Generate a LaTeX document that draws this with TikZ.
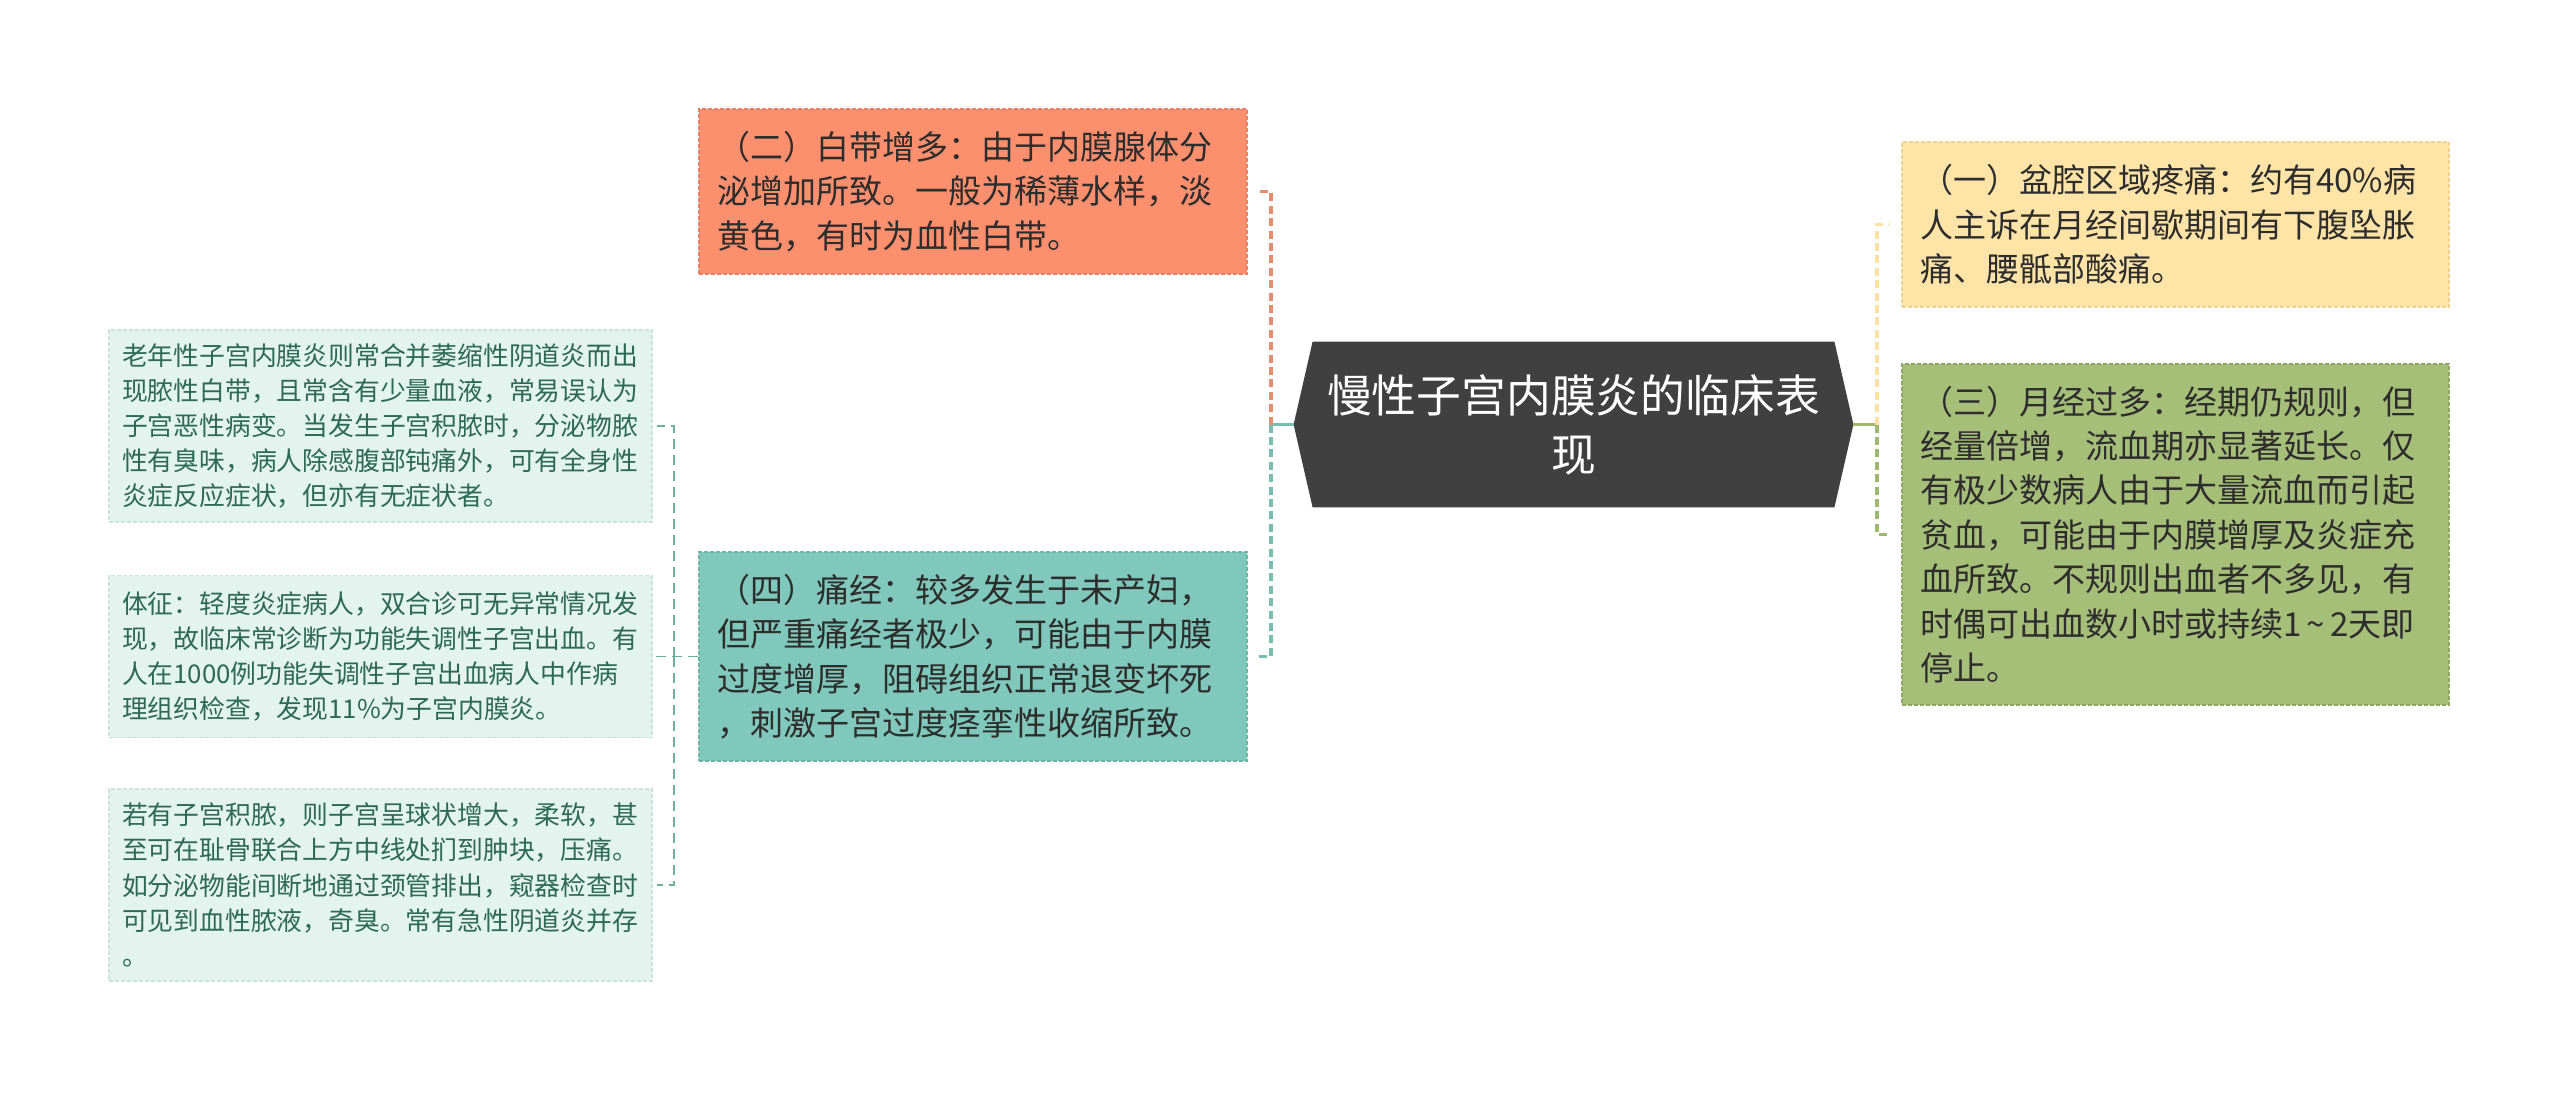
\documentclass[tikz,border=0pt]{standalone}
\usepackage{fontspec}
\setmainfont{Noto Sans CJK SC}
\usetikzlibrary{calc,backgrounds}
\definecolor{rootfill}{RGB}{64,64,64}
\definecolor{orfill}{RGB}{252,143,110}
\definecolor{ordraw}{RGB}{232,128,98}
\definecolor{tlfill}{RGB}{127,200,187}
\definecolor{tldraw}{RGB}{108,180,166}
\definecolor{ylfill}{RGB}{255,228,168}
\definecolor{yldraw}{RGB}{240,210,148}
\definecolor{grfill}{RGB}{165,190,120}
\definecolor{grdraw}{RGB}{140,168,98}
\definecolor{mtfill}{RGB}{227,243,238}
\definecolor{mtdraw}{RGB}{200,228,218}
\definecolor{txdark}{RGB}{45,45,45}
\definecolor{txgreen}{RGB}{45,105,85}
\definecolor{cor}{RGB}{233,140,110}
\definecolor{ctl}{RGB}{118,190,176}
\definecolor{cyl}{RGB}{250,226,165}
\definecolor{cgr}{RGB}{158,184,112}
\definecolor{cmt}{RGB}{110,175,155}
\begin{document}
\begin{tikzpicture}[x=0.5pt,y=-0.5pt,
  mainbox/.style={draw, dash pattern=on 2pt off 1pt, line width=0.7pt,
    align=left, inner xsep=9pt, inner ysep=0pt, text width=256pt,
    font=\fontsize{16.5}{22.2}\selectfont, text=txdark},
  leafbox/.style={draw=mtdraw, fill=mtfill, dash pattern=on 2pt off 1pt, line width=0.6pt,
    align=left, inner xsep=6.5pt, inner ysep=0pt, text width=258.5pt,
    font=\fontsize{12.9}{17.6}\selectfont, text=txgreen},
  rootbox/.style={align=center, inner sep=0pt, minimum width=279.5pt, minimum height=82.5pt,
    font=\fontsize{22.4}{29.5}\selectfont, text=white},
  conn/.style={line width=1.9pt},
  dconn/.style={line width=1.7pt, dash pattern=on 4pt off 2.2pt},
  lconn/.style={draw=cmt, line width=0.9pt, dash pattern=on 5pt off 3pt}]

\useasboundingbox (0,0) rectangle (2560,1093);

\node[rootbox] (root) at (1573.5,424.5) {慢性子宫内膜炎的临床表\\现};

\node[mainbox, fill=orfill, draw=ordraw, minimum height=82.5pt] (n2) at (973,191.5)
  {（二）白带增多：由于内膜腺体分\\泌增加所致。一般为稀薄水样，淡\\黄色，有时为血性白带。};
\node[mainbox, fill=tlfill, draw=tldraw, minimum height=104.5pt] (n4) at (973,656.5)
  {（四）痛经：较多发生于未产妇，\\但严重痛经者极少，可能由于内膜\\过度增厚，阻碍组织正常退变坏死\\，刺激子宫过度痉挛性收缩所致。};
\node[mainbox, fill=ylfill, draw=yldraw, minimum height=82.5pt, text width=255.5pt] (n1) at (2175.5,224.5)
  {（一）盆腔区域疼痛：约有40\%病\\人主诉在月经间歇期间有下腹坠胀\\痛、腰骶部酸痛。};
\node[mainbox, fill=grfill, draw=grdraw, minimum height=170.5pt, text width=255.5pt] (n3) at (2175.5,534.5)
  {（三）月经过多：经期仍规则，但\\经量倍增，流血期亦显著延长。仅\\有极少数病人由于大量流血而引起\\贫血，可能由于内膜增厚及炎症充\\血所致。不规则出血者不多见，有\\时偶可出血数小时或持续1\,{\textasciitilde}\,2天即\\停止。};

\node[leafbox, minimum height=96pt] (a) at (380.5,426)
  {老年性子宫内膜炎则常合并萎缩性阴道炎而出\\现脓性白带，且常含有少量血液，常易误认为\\子宫恶性病变。当发生子宫积脓时，分泌物脓\\性有臭味，病人除感腹部钝痛外，可有全身性\\炎症反应症状，但亦有无症状者。};
\node[leafbox, minimum height=81pt] (b) at (380.5,656.5)
  {体征：轻度炎症病人，双合诊可无异常情况发\\现，故临床常诊断为功能失调性子宫出血。有\\人在1000例功能失调性子宫出血病人中作病\\理组织检查，发现11\%为子宫内膜炎。};
\node[leafbox, minimum height=96pt] (c) at (380.5,885)
  {若有子宫积脓，则子宫呈球状增大，柔软，甚\\至可在耻骨联合上方中线处扪到肿块，压痛。\\如分泌物能间断地通过颈管排出，窥器检查时\\可见到血性脓液，奇臭。常有急性阴道炎并存\\。};

\begin{scope}[on background layer]
  \fill[white] (0,0) rectangle (2560,1093);
  \fill[rootfill] (root.west) -- ([xshift=9.5pt]root.north west) -- ([xshift=-9.5pt]root.north east)
    -- (root.east) -- ([xshift=-9.5pt]root.south east) -- ([xshift=9.5pt]root.south west) -- cycle;
\end{scope}

% left main connectors
\coordinate (jl) at (1271,424.5);
\draw[conn, ctl] (root.west) -- (jl);
\draw[dconn, cor] (jl) |- ([xshift=4.5pt]n2.east);
\draw[dconn, ctl] (jl) |- ([xshift=4.5pt]n4.east);

% right main connectors
\coordinate (jr) at (1877,424.5);
\draw[conn, cgr] (root.east) -- (jr);
\draw[dconn, cyl] (jr) |- ([xshift=-6pt]n1.west);
\draw[dconn, cgr] (jr) |- ([xshift=-6pt]n3.west);

% leaf connectors
\coordinate (jb) at (674,656.5);
\draw[lconn] (n4.west) -- (b.east);
\draw[lconn] (jb) |- ([xshift=2pt]a.east);
\draw[lconn] (jb) |- ([xshift=2pt]c.east);
\end{tikzpicture}
\end{document}
